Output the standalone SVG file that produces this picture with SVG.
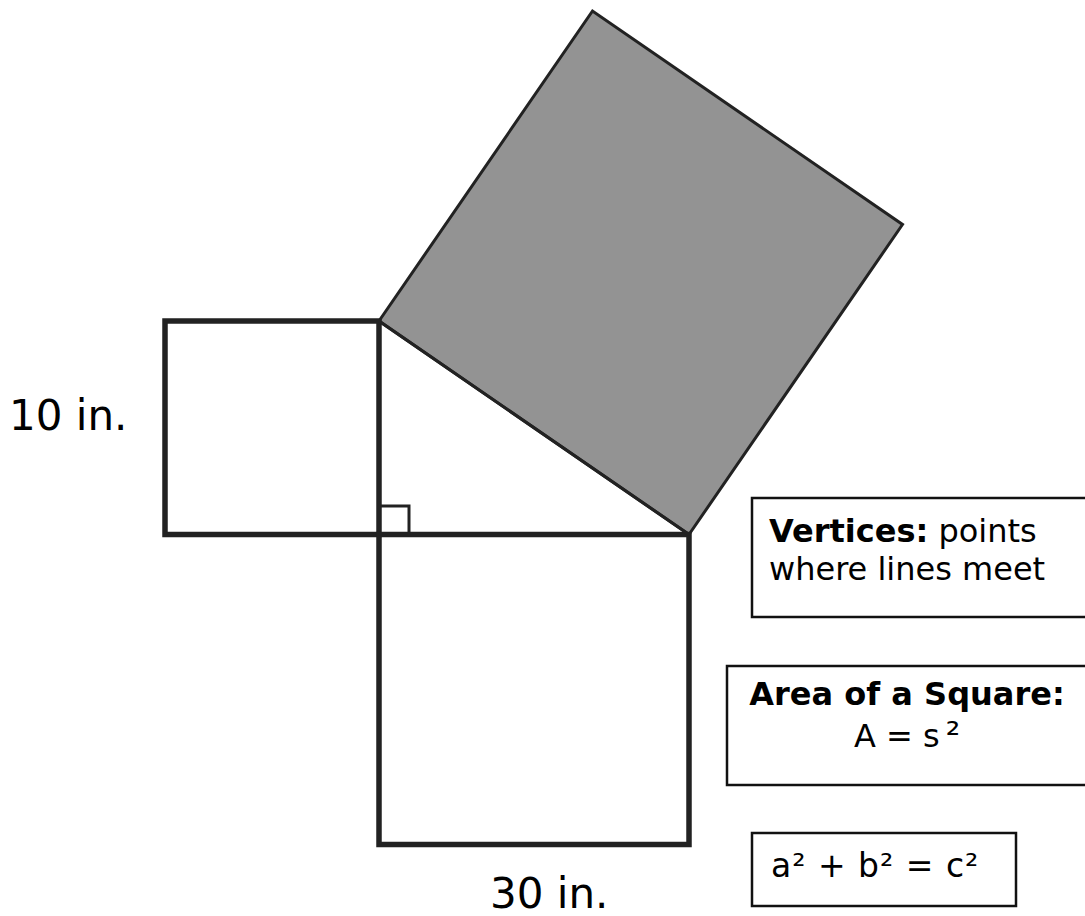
<svg xmlns="http://www.w3.org/2000/svg" width="1085" height="916" viewBox="0 0 1085 916">
<style>
.sq{fill:none;stroke:#222;stroke-width:5.5;stroke-linejoin:miter}
.box{fill:#fff;stroke:#111;stroke-width:2.5}
.t{font-family:"DejaVu Sans","Verdana",sans-serif;fill:#000}
.b{font-weight:bold}
</style>
<rect width="1085" height="916" fill="#fff"/>
<g id="hyp-square">
<polygon points="379,321 592.5,11 902.5,224.5 689,534.5" fill="#939393" stroke="#222" stroke-width="3" stroke-linejoin="miter"/>
</g>
<g id="left-square">
<rect class="sq" x="165" y="321" width="214" height="213.5"/>
</g>
<g id="bottom-square">
<rect class="sq" x="379" y="534.5" width="310" height="310"/>
</g>
<g id="connectors">
<line x1="379" y1="321" x2="689" y2="534.5" stroke="#222" stroke-width="3"/>
<polyline points="379,506 409,506 409,534.5" fill="none" stroke="#222" stroke-width="3"/>
</g>
<g id="label-10">
<text class="t" x="9" y="430" font-size="42">10 in.</text>
</g>
<g id="label-30">
<text class="t" x="490" y="908" font-size="42">30 in.</text>
</g>
<g id="box-vertices">
<rect class="box" x="752" y="498" width="345" height="119"/>
<text class="t" x="769" y="542" font-size="32"><tspan class="b">Vertices:</tspan> points</text>
<text class="t" x="769" y="580" font-size="32">where lines meet</text>
</g>
<g id="box-area">
<rect class="box" x="727" y="666" width="370" height="119"/>
<text class="t b" x="907" y="705" font-size="32" text-anchor="middle">Area of a Square:</text>
<text class="t" x="907" y="747" font-size="32" text-anchor="middle">A = s<tspan dx="6" font-size="36">²</tspan></text>
</g>
<g id="box-pythag">
<rect class="box" x="752" y="833" width="264" height="73"/>
<text class="t" x="771" y="877" font-size="33" letter-spacing="1">a² + b² = c²</text>
</g>
</svg>
